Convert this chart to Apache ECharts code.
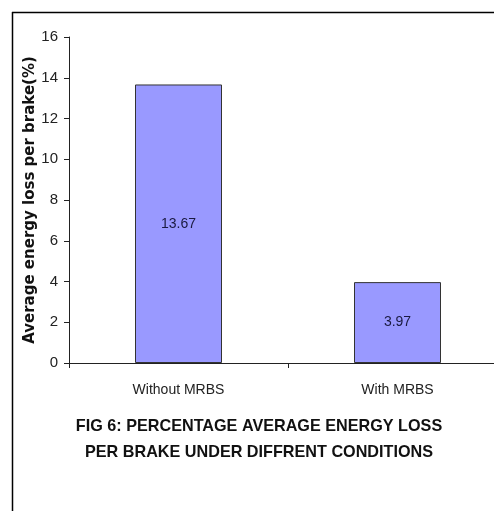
<!DOCTYPE html>
<html>
<head>
<meta charset="utf-8">
<script src="https://cdn.jsdelivr.net/npm/echarts@6/dist/echarts.min.js"></script>
<style>
  html, body { margin: 0; padding: 0; background: #fff; overflow: hidden; }
  #chart { width: 520px; height: 511px; }
</style>
</head>
<body>
<div id="chart"></div>
<script>
// Energy loss per brake, with and without the MRBS system
const categories = ['Without MRBS', 'With MRBS'];
const energyLoss = [13.67, 3.97];
const yTicks = [0, 2, 4, 6, 8, 10, 12, 14, 16];

const chart = echarts.init(document.getElementById('chart'));
chart.setOption({
  backgroundColor: '#ffffff',
  animation: false,
  graphic: [
    { type: 'line', shape: { x1: 12, y1: 12.5, x2: 520, y2: 12.5 }, style: { stroke: '#000', lineWidth: 1.5 } },
    { type: 'line', shape: { x1: 12.5, y1: 12, x2: 12.5, y2: 511 }, style: { stroke: '#000', lineWidth: 1.5 } }
  ],
  title: {
    text: 'FIG 6: PERCENTAGE AVERAGE ENERGY LOSS\nPER BRAKE UNDER DIFFRENT CONDITIONS',
    left: 254,
    top: 409,
    textAlign: 'center',
    textStyle: {
      fontFamily: 'Liberation Sans, Arial, sans-serif',
      fontSize: 16.2,
      fontWeight: 'bold',
      color: '#111',
      lineHeight: 26
    }
  },
  grid: { left: 69, top: 37, width: 438, height: 326, containLabel: false },
  xAxis: {
    type: 'category',
    data: categories,
    axisLine: { lineStyle: { color: '#222', width: 1 } },
    axisTick: { show: true, alignWithLabel: false, length: 5, lineStyle: { color: '#222' } },
    axisLabel: {
      margin: 20,
      fontFamily: 'Liberation Sans, Arial, sans-serif',
      fontSize: 14,
      color: '#222'
    }
  },
  yAxis: {
    type: 'value',
    min: yTicks[0],
    max: yTicks[yTicks.length - 1],
    interval: 2,
    name: 'Average energy loss per brake(%)',
    nameLocation: 'middle',
    nameGap: 31,
    nameMoveOverlap: false,
    nameTextStyle: {
      fontFamily: 'DejaVu Sans, sans-serif',
      fontSize: 15,
      fontWeight: 'bold',
      color: '#111'
    },
    axisLine: { show: true, lineStyle: { color: '#222', width: 1 } },
    axisTick: { show: true, length: 5, lineStyle: { color: '#222' } },
    splitLine: { show: false },
    axisLabel: {
      margin: 11,
      fontFamily: 'Liberation Sans, Arial, sans-serif',
      fontSize: 15,
      color: '#222'
    }
  },
  series: [{
    type: 'bar',
    data: energyLoss,
    barWidth: 87,
    itemStyle: { color: '#9999ff', borderColor: '#333', borderWidth: 1 },
    label: {
      show: true,
      position: 'inside',
      formatter: p => p.value.toFixed(2),
      fontFamily: 'Liberation Sans, Arial, sans-serif',
      fontSize: 14,
      color: '#1a1a40'
    }
  }]
});
</script>
</body>
</html>
